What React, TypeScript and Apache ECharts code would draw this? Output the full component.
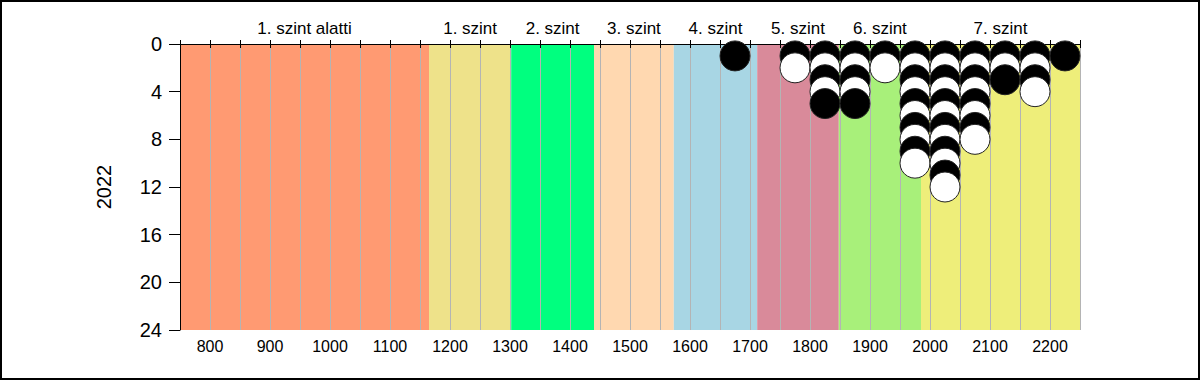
import React, { useEffect, useRef } from "react";
import * as echarts from "echarts";

const bandNames = ["1. szint alatti", "1. szint", "2. szint", "3. szint", "4. szint", "5. szint", "6. szint", "7. szint"];
const bandStarts = [750, 1165, 1302, 1440, 1573, 1712, 1848, 1985];
const bandEnds = [1165, 1302, 1440, 1573, 1712, 1848, 1985, 2250];
const bandColors = ["#FF9A72", "#EEE28A", "#00FF7F", "#FFD8B0", "#A8D6E4", "#D98A9A", "#A8F07A", "#EEEE7A"];

const dotColumns = [1675, 1775, 1825, 1875, 1925, 1975, 2025, 2075, 2125, 2175, 2225];
const dotCounts = [1, 2, 5, 5, 2, 10, 12, 8, 3, 4, 1];

const xTicks = { min: 750, max: 2250, interval: 50 };
const yTicks = { min: 0, max: 24, interval: 4 };
const yearLabel = "2022";

const FONT = "Liberation Sans, Arial, sans-serif";

export default function App() {
  const ref = useRef<HTMLDivElement>(null);
  useEffect(() => {
    if (!ref.current) return;
    const chart = echarts.init(ref.current, undefined, { renderer: "svg" });

    const points: any[] = [];
    dotColumns.forEach((x, i) => {
      for (let k = 1; k <= dotCounts[i]; k++) {
        points.push({
          value: [x, k],
          itemStyle: { color: k % 2 === 1 ? "#000000" : "#ffffff" },
        });
      }
    });

    const areas = bandNames.map((name, i) => [
      {
        name,
        xAxis: bandStarts[i],
        itemStyle: { color: bandColors[i], opacity: 1 },
      },
      { xAxis: bandEnds[i] },
    ]);

    chart.setOption({
      animation: false,
      textStyle: { fontFamily: FONT },
      grid: { left: 180, right: 120, top: 44, bottom: 50 },
      xAxis: [
        {
          type: "value",
          position: "bottom",
          min: xTicks.min,
          max: xTicks.max,
          interval: xTicks.interval,
          z: 2,
          axisLine: { show: true, lineStyle: { color: "#000", width: 1 } },
          axisTick: { show: true, length: 4, lineStyle: { color: "#000" } },
          axisLabel: {
            color: "#000",
            fontSize: 16,
            fontFamily: FONT,
            margin: 8,
            formatter: (v: number) => (v % 100 === 0 ? String(v) : ""),
          },
          splitLine: { show: true, lineStyle: { color: "#b4b4b4", width: 1 } },
        },
        {
          type: "value",
          position: "top",
          min: xTicks.min,
          max: xTicks.max,
          interval: xTicks.interval,
          z: 2,
          axisLine: { show: true, lineStyle: { color: "#000", width: 1 } },
          axisTick: { show: true, length: 4, lineStyle: { color: "#000" } },
          axisLabel: { show: false },
          splitLine: { show: false },
        },
      ],
      yAxis: {
        type: "value",
        inverse: true,
        min: yTicks.min,
        max: yTicks.max,
        interval: yTicks.interval,
        z: 2,
        name: yearLabel,
        nameLocation: "middle",
        nameRotate: 90,
        nameGap: 66,
        nameTextStyle: { color: "#000", fontSize: 20, fontFamily: FONT },
        axisLine: { show: true, lineStyle: { color: "#000", width: 1 } },
        axisTick: { show: true, length: 11, lineStyle: { color: "#000" } },
        axisLabel: { color: "#000", fontSize: 20, fontFamily: FONT, margin: 18 },
        splitLine: { show: false },
      },
      series: [
        {
          type: "scatter",
          z: 1,
          data: [],
          markArea: {
            silent: true,
            label: {
              show: true,
              position: "top",
              distance: 7,
              color: "#000",
              fontSize: 17,
              fontFamily: FONT,
            },
            data: areas,
          },
        },
        {
          type: "scatter",
          z: 3,
          symbolSize: 30,
          data: points,
          itemStyle: { borderColor: "#222", borderWidth: 1, opacity: 1 },
        },
      ],
      graphic: [
        {
          type: "rect",
          shape: { x: 1, y: 1, width: 1198, height: 378 },
          style: { fill: "none", stroke: "#000", lineWidth: 2 },
          silent: true,
        },
      ],
    });
    return () => chart.dispose();
  }, []);
  return (
    <div
      ref={ref}
      style={{ position: "fixed", left: 0, top: 0, width: 1200, height: 380, background: "#fff" }}
    />
  );
}
